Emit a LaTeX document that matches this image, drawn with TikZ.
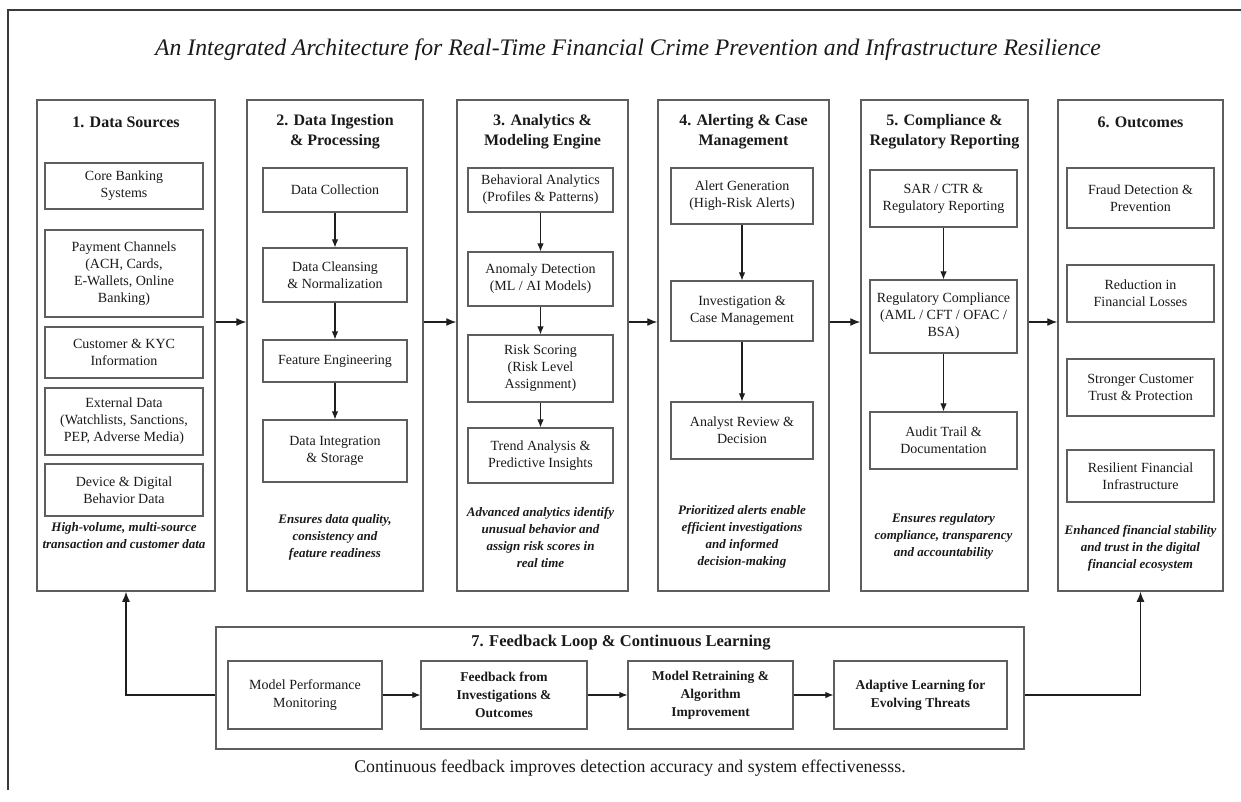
\documentclass[tikz,border=0pt]{standalone}
\usepackage{fontspec}
\setmainfont{Liberation Serif}
\usetikzlibrary{arrows.meta}
\definecolor{linegray}{HTML}{5E5E5E}
\definecolor{framegray}{HTML}{3A3A3A}
\definecolor{arrowdark}{HTML}{1E1E1E}
\definecolor{txt}{HTML}{1A1A1A}
\tikzset{
  col/.style={draw=linegray, line width=1.5pt, inner sep=0pt},
  ibox/.style={draw=linegray, line width=1.2pt, inner sep=0pt, align=center, text=txt, font=\fontsize{14}{17}\selectfont},
  fbox/.style={ibox, font=\bfseries\fontsize{13.5}{18}\selectfont},
  fboxr/.style={ibox, font=\fontsize{14}{18}\selectfont},
  ctitle/.style={align=center, text=txt, inner sep=0pt, font=\bfseries\fontsize{16}{20}\selectfont},
  ccap/.style={align=center, text=txt, inner sep=0pt, font=\bfseries\itshape\fontsize{13}{17}\selectfont},
  bigarr/.style={draw=arrowdark, line width=1.3pt, -{Latex[length=10pt,width=8pt]}},
  smarr/.style={draw=arrowdark, line width=1.1pt, -{Latex[length=8pt,width=6.5pt]}},
}
\begin{document}
\begin{tikzpicture}[x=1pt,y=-1pt]
\useasboundingbox (0,0) rectangle (1241,801);
\fill[white] (0,0) rectangle (1241,801);
% outer frame (top and left edges)
\draw[framegray, line width=2.2pt] (8,790) -- (8,10) -- (1241,10);
% main title
\node[text=txt, font=\itshape\fontsize{23.7}{28}\selectfont] (title) at (628,50) {An Integrated Architecture for Real-Time Financial Crime Prevention and Infrastructure Resilience};

% ---------- Column 1 ----------
\node[col, minimum width=178pt, minimum height=491pt] (c1) at (126,345.5) {};
\node[ctitle] (t1) at (126,122) {1. Data Sources};
\node[ibox, minimum width=158pt, minimum height=46pt] (c1a) at (124,186) {Core Banking\\Systems};
\node[ibox, minimum width=158pt, minimum height=87pt] (c1b) at (124,273.5) {Payment Channels\\(ACH, Cards,\\E-Wallets, Online\\Banking)};
\node[ibox, minimum width=158pt, minimum height=51pt] (c1c) at (124,352.5) {Customer \& KYC\\Information};
\node[ibox, minimum width=158pt, minimum height=67pt] (c1d) at (124,421.5) {External Data\\(Watchlists, Sanctions,\\PEP, Adverse Media)};
\node[ibox, minimum width=158pt, minimum height=52pt] (c1e) at (124,490) {Device \& Digital\\Behavior Data};
\node[ccap] (k1) at (124,536) {High-volume, multi-source\\transaction and customer data};

% ---------- Column 2 ----------
\node[col, minimum width=176pt, minimum height=491pt] (c2) at (335,345.5) {};
\node[ctitle] (t2) at (335,132) {2. Data Ingestion\\\& Processing};
\node[ibox, minimum width=144pt, minimum height=44pt] (c2a) at (335,190) {Data Collection};
\node[ibox, minimum width=144pt, minimum height=54pt] (c2b) at (335,275) {Data Cleansing\\\& Normalization};
\node[ibox, minimum width=144pt, minimum height=42pt] (c2c) at (335,361) {Feature Engineering};
\node[ibox, minimum width=144pt, minimum height=62pt] (c2d) at (335,451) {Data Integration\\\& Storage};
\node[ccap] (k2) at (335,537.5) {Ensures data quality,\\consistency and\\feature readiness};
\draw[smarr] (c2a) -- (c2b);
\draw[smarr] (c2b) -- (c2c);
\draw[smarr] (c2c) -- (c2d);

% ---------- Column 3 ----------
\node[col, minimum width=171pt, minimum height=491pt] (c3) at (542.5,345.5) {};
\node[ctitle] (t3) at (542.5,132) {3. Analytics \&\\Modeling Engine};
\node[ibox, minimum width=145pt, minimum height=44pt] (c3a) at (540.5,190) {Behavioral Analytics\\(Profiles \& Patterns)};
\node[ibox, minimum width=145pt, minimum height=54pt] (c3b) at (540.5,279) {Anomaly Detection\\(ML / AI Models)};
\node[ibox, minimum width=145pt, minimum height=67pt] (c3c) at (540.5,368.5) {Risk Scoring\\(Risk Level\\Assignment)};
\node[ibox, minimum width=145pt, minimum height=55pt] (c3d) at (540.5,455.5) {Trend Analysis \&\\Predictive Insights};
\node[ccap] (k3) at (540.5,537) {Advanced analytics identify\\unusual behavior and\\assign risk scores in\\real time};
\draw[smarr] (c3a) -- (c3b);
\draw[smarr] (c3b) -- (c3c);
\draw[smarr] (c3c) -- (c3d);

% ---------- Column 4 ----------
\node[col, minimum width=171pt, minimum height=491pt] (c4) at (743.5,345.5) {};
\node[ctitle] (t4) at (743.5,132) {4. Alerting \& Case\\Management};
\node[ibox, minimum width=142pt, minimum height=56pt] (c4a) at (742,196) {Alert Generation\\(High-Risk Alerts)};
\node[ibox, minimum width=142pt, minimum height=60pt] (c4b) at (742,311) {Investigation \&\\Case Management};
\node[ibox, minimum width=142pt, minimum height=57pt] (c4c) at (742,430.5) {Analyst Review \&\\Decision};
\node[ccap] (k4) at (742,536.5) {Prioritized alerts enable\\efficient investigations\\and informed\\decision-making};
\draw[smarr] (c4a) -- (c4b);
\draw[smarr] (c4b) -- (c4c);

% ---------- Column 5 ----------
\node[col, minimum width=167pt, minimum height=491pt] (c5) at (944.5,345.5) {};
\node[ctitle] (t5) at (944.5,132) {5. Compliance \&\\Regulatory Reporting};
\node[ibox, minimum width=147pt, minimum height=57pt] (c5a) at (943.5,198.5) {SAR / CTR \&\\Regulatory Reporting};
\node[ibox, minimum width=147pt, minimum height=73pt] (c5b) at (943.5,316.5) {Regulatory Compliance\\(AML / CFT / OFAC /\\BSA)};
\node[ibox, minimum width=147pt, minimum height=57pt] (c5c) at (943.5,440.5) {Audit Trail \&\\Documentation};
\node[ccap] (k5) at (943.5,536) {Ensures regulatory\\compliance, transparency\\and accountability};
\draw[smarr] (c5a) -- (c5b);
\draw[smarr] (c5b) -- (c5c);

% ---------- Column 6 ----------
\node[col, minimum width=165pt, minimum height=491pt] (c6) at (1140.5,345.5) {};
\node[ctitle] (t6) at (1140.5,122) {6. Outcomes};
\node[ibox, minimum width=147pt, minimum height=60pt] (c6a) at (1140.5,198) {Fraud Detection \&\\Prevention};
\node[ibox, minimum width=147pt, minimum height=57pt] (c6b) at (1140.5,293.5) {Reduction in\\Financial Losses};
\node[ibox, minimum width=147pt, minimum height=57pt] (c6c) at (1140.5,387.5) {Stronger Customer\\Trust \& Protection};
\node[ibox, minimum width=147pt, minimum height=52pt] (c6d) at (1140.5,476) {Resilient Financial\\Infrastructure};
\node[ccap] (k6) at (1140.5,548) {Enhanced financial stability\\and trust in the digital\\financial ecosystem};

% ---------- arrows between columns ----------
\draw[bigarr] ([yshift=23.5pt]c1.east) -- ([yshift=23.5pt]c2.west);
\draw[bigarr] ([yshift=23.5pt]c2.east) -- ([yshift=23.5pt]c3.west);
\draw[bigarr] ([yshift=23.5pt]c3.east) -- ([yshift=23.5pt]c4.west);
\draw[bigarr] ([yshift=23.5pt]c4.east) -- ([yshift=23.5pt]c5.west);
\draw[bigarr] ([yshift=23.5pt]c5.east) -- ([yshift=23.5pt]c6.west);

% ---------- Feedback loop ----------
\node[col, minimum width=808pt, minimum height=122pt] (fb) at (620,688) {};
\node[ctitle, font=\bfseries\fontsize{16.5}{20}\selectfont] (t7) at (621,643) {7. Feedback Loop \& Continuous Learning};
\node[fboxr, minimum width=154pt, minimum height=68pt] (f1) at (305,695) {Model Performance\\Monitoring};
\node[fbox, minimum width=166pt, minimum height=68pt] (f2) at (504,695) {Feedback from\\Investigations \&\\Outcomes};
\node[fbox, minimum width=165pt, minimum height=68pt] (f3) at (710.5,695) {Model Retraining \&\\Algorithm\\Improvement};
\node[fbox, minimum width=173pt, minimum height=68pt] (f4) at (920.5,695) {Adaptive Learning for\\Evolving Threats};
\draw[smarr] (f1) -- (f2);
\draw[smarr] (f2) -- (f3);
\draw[smarr] (f3) -- (f4);
\draw[bigarr] (fb.west |- f1.west) -| (c1.south);
\draw[bigarr] (fb.east |- f4.east) -| (c6.south);
\node[text=txt, inner sep=0pt, font=\fontsize{17.8}{21}\selectfont] (cap) at (630,768) {Continuous feedback improves detection accuracy and system effectivenesss.};
\end{tikzpicture}
\end{document}
